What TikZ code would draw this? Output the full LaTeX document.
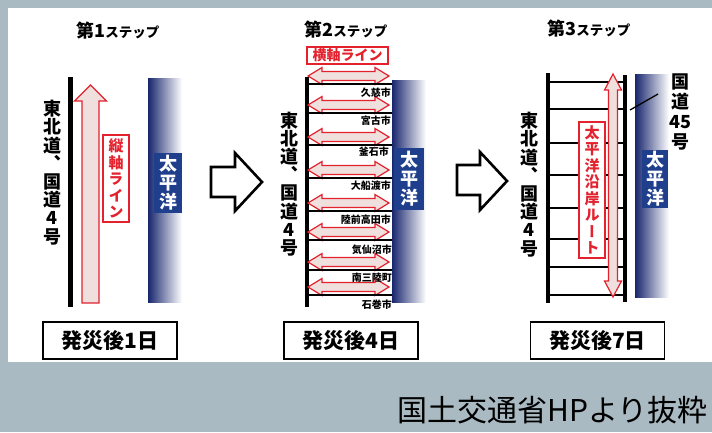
\documentclass[tikz,border=0pt]{standalone}
\usepackage{fontspec}
\newfontfamily\jp{Noto Sans CJK JP}
\newfontfamily\vjp[RawFeature=+vert]{Noto Sans CJK JP}
\definecolor{bggray}{HTML}{A9BAC2}
\definecolor{myred}{HTML}{E3222E}
\definecolor{mypink}{HTML}{EFDFDD}
\definecolor{barblue}{HTML}{18266E}
\definecolor{boxblue}{HTML}{1F3E8C}
\begin{document}
\begin{tikzpicture}[x=1pt,y=-1pt,
  title/.style={anchor=base,inner sep=0,font=\jp\bfseries},
  vtxt/.style={font=\vjp\bfseries\fontsize{18}{18.2}\selectfont,align=center,inner sep=0},
  redv/.style={draw=myred,line width=1.2,fill=white,text=myred,inner sep=0,align=center,
    font=\vjp\bfseries\fontsize{15}{16.5}\selectfont},
  bluev/.style={fill=boxblue,text=white,inner sep=0,align=center,minimum width=28,minimum height=60,
    font=\vjp\bfseries\fontsize{18}{19}\selectfont},
  daybox/.style={draw,line width=1.5,fill=white,minimum width=134,minimum height=37,inner sep=0,
    font=\jp\bfseries\fontsize{21}{21}\selectfont},
  city/.style={anchor=east,inner sep=0,font=\jp\bfseries\fontsize{10}{10}\selectfont},
  road/.style={line width=4.5,black},
  rung/.style={line width=2.5,black},
  redarrow/.style={draw=myred,line width=1.2,fill=mypink,line join=miter},
  hollow/.style={draw=black,line width=2.6,fill=white,line join=miter}]
\useasboundingbox (0,0) rectangle (712,432);
\fill[bggray] (0,0) rectangle (712,432);
\fill[white] (8,8) rectangle (712,362);

% ---------- Panel 1 ----------
\node[title] (t1) at (118,37.5) {{\fontsize{18}{18}\selectfont 第1}{\fontsize{13.5}{14}\selectfont ステップ}};
\draw[road] (70.5,77) -- (70.5,307);
\node[vtxt] (r1) at (52,172.5) {東\\北\\道\\、\\国\\道\\4\\号};
\path[redarrow] (82,303) -- (82,101) -- (74.5,101) -- (90.5,85) -- (106.5,101) -- (99,101) -- (99,303) -- cycle;
\node[redv,minimum width=26,minimum height=87] (l1) at (116,178.5) {縦\\軸\\ラ\\イ\\ン};
\shade[left color=barblue,right color=white] (148,78) rectangle (182,302);
\node[bluev] (p1) at (168,183) {太\\平\\洋};
\node[daybox] (d1) at (110,340.5) {発災後1日};

% ---------- arrow 1 ----------
\path[hollow] (211,167) -- (235,167) -- (235,153) -- (262,182) -- (235,211) -- (235,197) -- (211,197) -- cycle;

% ---------- Panel 2 ----------
\node[title] (t2) at (346,36.5) {{\fontsize{18}{18}\selectfont 第2}{\fontsize{13.5}{14}\selectfont ステップ}};
\node[draw=myred,line width=1.2,fill=white,text=myred,inner sep=0,minimum width=81,minimum height=17,
  font=\jp\bfseries\fontsize{14}{14}\selectfont] (l2) at (347.5,55.5) {横軸ライン};
\shade[left color=barblue,right color=white] (392,80) rectangle (426,302);
\draw[road] (307,77) -- (307,307);
\foreach \y in {76,105,137,170,203,232,262,287}{
  \path[redarrow] (308,\y) -- (322,\y-8.5) -- (322,\y-4.5) -- (375,\y-4.5) -- (375,\y-8.5) -- (389,\y)
    -- (375,\y+8.5) -- (375,\y+4.5) -- (322,\y+4.5) -- (322,\y+8.5) -- cycle;
  \draw[rung] (307,\y+8) -- (392,\y+8);
}
\node[city] (c1) at (391,93) {久慈市};
\node[city] (c2) at (391,121) {宮古市};
\node[city] (c3) at (389,152) {釜石市};
\node[city] (c4) at (391,186) {大船渡市};
\node[city] (c5) at (391,220) {陸前高田市};
\node[city] (c6) at (392,250) {気仙沼市};
\node[city] (c7) at (392,278) {南三陸町};
\node[city] (c8) at (392,305) {石巻市};
\node[vtxt] (r2) at (289,184) {東\\北\\道\\、\\国\\道\\4\\号};
\node[bluev,minimum width=30,minimum height=62] (p2) at (409,179) {太\\平\\洋};
\node[daybox] (d2) at (351,340.5) {発災後4日};

% ---------- arrow 2 ----------
\path[hollow] (457,165) -- (480,165) -- (480,152) -- (507,181) -- (480,210) -- (480,195) -- (457,195) -- cycle;

% ---------- Panel 3 ----------
\node[title] (t3) at (589,35) {{\fontsize{18}{18}\selectfont 第3}{\fontsize{13.5}{14}\selectfont ステップ}};
\shade[left color=barblue,right color=white] (635,74) rectangle (669,297);
\draw[road] (548,73) -- (548,303);
\draw[line width=3.2] (625,75) -- (625,302);
\foreach \y in {82,109,143,175,208,239,267,295}{
  \draw[rung] (548,\y) -- (625,\y);
}
\path[redarrow] (613,74) -- (621.5,90) -- (617.5,90) -- (617.5,281) -- (621.5,281) -- (613,297)
  -- (604.5,281) -- (608.5,281) -- (608.5,90) -- (604.5,90) -- cycle;
\node[redv,minimum width=26,minimum height=136] (l3) at (592,190) {太\\平\\洋\\沿\\岸\\ル\\ー\\ト};
\node[vtxt] (r3) at (529,184.5) {東\\北\\道\\、\\国\\道\\4\\号};
\node[bluev,minimum width=26,minimum height=58] (p3) at (655,179) {太\\平\\洋};
\node[vtxt,font=\vjp\bfseries\fontsize{18}{20}\selectfont] (r45) at (680,112) {国\\道\\45\\号};
\coordinate (r45end) at (630,110);
\draw[line width=1.3] (658,94) -- (r45end);
\node[daybox] (d3) at (597.5,340.5) {発災後7日};

% ---------- source ----------
\node[anchor=base east,inner sep=0,font=\jp\fontsize{30}{30}\selectfont] (src) at (708,421) {国土交通省HPより抜粋};
\end{tikzpicture}
\end{document}
